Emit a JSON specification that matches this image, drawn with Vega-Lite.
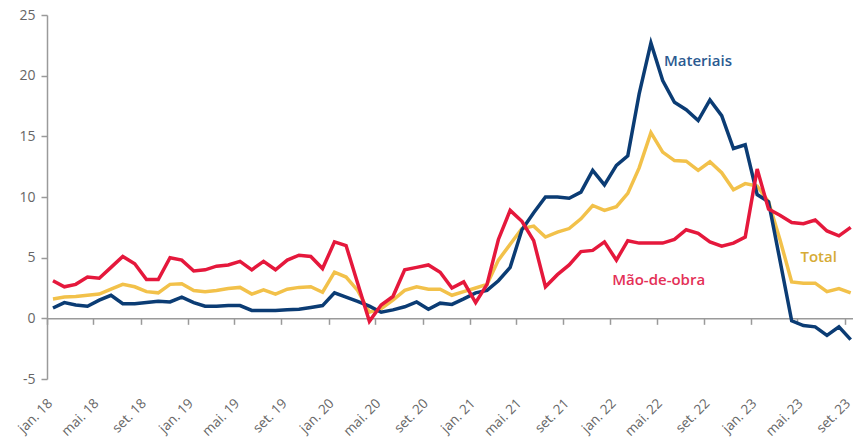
{
  "$schema": "https://vega.github.io/schema/vega-lite/v6.json",
  "width": 806,
  "height": 364,
  "autosize": {"type": "none"},
  "padding": {"left": 47, "top": 15, "right": 0, "bottom": 62},
  "background": "white",
  "config": {"view": {"stroke": null}, "font": "Open Sans", "axis": {"labelFont": "Open Sans", "grid": false}},
  "datasets": {
    "indices": [
      {"mes":"2018-01","materiais":0.85,"total":1.6,"mao":3.1},
      {"mes":"2018-02","materiais":1.3,"total":1.75,"mao":2.6},
      {"mes":"2018-03","materiais":1.1,"total":1.8,"mao":2.8},
      {"mes":"2018-04","materiais":1.0,"total":1.9,"mao":3.4},
      {"mes":"2018-05","materiais":1.5,"total":2.0,"mao":3.3},
      {"mes":"2018-06","materiais":1.9,"total":2.4,"mao":4.2},
      {"mes":"2018-07","materiais":1.2,"total":2.8,"mao":5.1},
      {"mes":"2018-08","materiais":1.2,"total":2.6,"mao":4.5},
      {"mes":"2018-09","materiais":1.3,"total":2.2,"mao":3.2},
      {"mes":"2018-10","materiais":1.4,"total":2.1,"mao":3.2},
      {"mes":"2018-11","materiais":1.35,"total":2.8,"mao":5.0},
      {"mes":"2018-12","materiais":1.75,"total":2.85,"mao":4.8},
      {"mes":"2019-01","materiais":1.3,"total":2.3,"mao":3.9},
      {"mes":"2019-02","materiais":1.0,"total":2.2,"mao":4.0},
      {"mes":"2019-03","materiais":1.0,"total":2.3,"mao":4.3},
      {"mes":"2019-04","materiais":1.05,"total":2.45,"mao":4.4},
      {"mes":"2019-05","materiais":1.05,"total":2.55,"mao":4.7},
      {"mes":"2019-06","materiais":0.65,"total":2.0,"mao":4.0},
      {"mes":"2019-07","materiais":0.65,"total":2.35,"mao":4.7},
      {"mes":"2019-08","materiais":0.65,"total":2.0,"mao":4.0},
      {"mes":"2019-09","materiais":0.7,"total":2.4,"mao":4.8},
      {"mes":"2019-10","materiais":0.75,"total":2.55,"mao":5.2},
      {"mes":"2019-11","materiais":0.9,"total":2.6,"mao":5.1},
      {"mes":"2019-12","materiais":1.05,"total":2.15,"mao":4.1},
      {"mes":"2020-01","materiais":2.1,"total":3.8,"mao":6.3},
      {"mes":"2020-02","materiais":1.75,"total":3.4,"mao":6.0},
      {"mes":"2020-03","materiais":1.4,"total":2.3,"mao":2.9},
      {"mes":"2020-04","materiais":1.0,"total":0.5,"mao":-0.25},
      {"mes":"2020-05","materiais":0.5,"total":0.8,"mao":1.1},
      {"mes":"2020-06","materiais":0.7,"total":1.5,"mao":1.8},
      {"mes":"2020-07","materiais":0.95,"total":2.3,"mao":4.0},
      {"mes":"2020-08","materiais":1.35,"total":2.6,"mao":4.2},
      {"mes":"2020-09","materiais":0.75,"total":2.4,"mao":4.4},
      {"mes":"2020-10","materiais":1.25,"total":2.4,"mao":3.8},
      {"mes":"2020-11","materiais":1.15,"total":1.9,"mao":2.5},
      {"mes":"2020-12","materiais":1.6,"total":2.2,"mao":3.0},
      {"mes":"2021-01","materiais":2.1,"total":2.5,"mao":1.3},
      {"mes":"2021-02","materiais":2.3,"total":2.8,"mao":2.8},
      {"mes":"2021-03","materiais":3.1,"total":4.8,"mao":6.5},
      {"mes":"2021-04","materiais":4.2,"total":6.1,"mao":8.9},
      {"mes":"2021-05","materiais":7.3,"total":7.4,"mao":8.0},
      {"mes":"2021-06","materiais":8.7,"total":7.6,"mao":6.4},
      {"mes":"2021-07","materiais":10.0,"total":6.7,"mao":2.6},
      {"mes":"2021-08","materiais":10.0,"total":7.1,"mao":3.6},
      {"mes":"2021-09","materiais":9.9,"total":7.4,"mao":4.4},
      {"mes":"2021-10","materiais":10.4,"total":8.2,"mao":5.5},
      {"mes":"2021-11","materiais":12.2,"total":9.3,"mao":5.6},
      {"mes":"2021-12","materiais":11.0,"total":8.9,"mao":6.3},
      {"mes":"2022-01","materiais":12.6,"total":9.2,"mao":4.8},
      {"mes":"2022-02","materiais":13.4,"total":10.3,"mao":6.4},
      {"mes":"2022-03","materiais":18.5,"total":12.4,"mao":6.2},
      {"mes":"2022-04","materiais":22.7,"total":15.3,"mao":6.2},
      {"mes":"2022-05","materiais":19.6,"total":13.7,"mao":6.2},
      {"mes":"2022-06","materiais":17.8,"total":13.0,"mao":6.5},
      {"mes":"2022-07","materiais":17.2,"total":12.95,"mao":7.3},
      {"mes":"2022-08","materiais":16.3,"total":12.2,"mao":7.0},
      {"mes":"2022-09","materiais":18.0,"total":12.9,"mao":6.3},
      {"mes":"2022-10","materiais":16.7,"total":12.0,"mao":5.95},
      {"mes":"2022-11","materiais":14.0,"total":10.6,"mao":6.2},
      {"mes":"2022-12","materiais":14.3,"total":11.1,"mao":6.7},
      {"mes":"2023-01","materiais":10.2,"total":10.9,"mao":12.3},
      {"mes":"2023-02","materiais":9.6,"total":9.6,"mao":9.0},
      {"mes":"2023-03","materiais":4.8,"total":6.5,"mao":8.5},
      {"mes":"2023-04","materiais":-0.2,"total":3.0,"mao":7.9},
      {"mes":"2023-05","materiais":-0.6,"total":2.9,"mao":7.8},
      {"mes":"2023-06","materiais":-0.7,"total":2.9,"mao":8.1},
      {"mes":"2023-07","materiais":-1.4,"total":2.2,"mao":7.2},
      {"mes":"2023-08","materiais":-0.7,"total":2.45,"mao":6.8},
      {"mes":"2023-09","materiais":-1.75,"total":2.1,"mao":7.5}
    ],
    "rotulos": [
      {"data": "2022-08-16", "valor": 21.2, "texto": "Materiais", "serie": "materiais"},
      {"data": "2023-06-25", "valor": 5.03, "texto": "Total", "serie": "total"},
      {"data": "2022-05-06", "valor": 3.19, "texto": "Mão-de-obra", "serie": "mao"}
    ]
  },
  "resolve": {"axis": {"x": "independent"}, "scale": {"color": "independent"}},
  "layer": [
    {
      "data": {"name": "indices"},
      "transform": [{"fold": ["total", "materiais", "mao"], "as": ["serie", "valor"]}],
      "mark": {"type": "line", "strokeWidth": 3.5},
      "encoding": {
        "x": {
          "field": "mes", "timeUnit": "utcyearmonth", "type": "temporal", "bandPosition": 0.5,
          "scale": {"type": "utc", "domain": [1514764800000, 1695340800000], "nice": false},
          "axis": {
            "orient": "bottom", "domain": false, "ticks": false, "title": null, "grid": false,
            "labelAngle": -45, "labelAlign": "right", "labelBaseline": "top", "labelPadding": 17, "labelOffset": -2,
            "labelFontSize": 13.5, "labelColor": "#666666", "labelFlush": false, "labelOverlap": false, "labelBound": false,
            "labelExpr": "['jan.','fev.','mar.','abr.','mai.','jun.','jul.','ago.','set.','out.','nov.','dez.'][utcmonth(datum.value)] + ' ' + utcFormat(datum.value, '%y')",
            "values": [
              {"year": 2018, "month": 1, "date": 1, "utc": true}, {"year": 2018, "month": 5, "date": 1, "utc": true}, {"year": 2018, "month": 9, "date": 1, "utc": true},
              {"year": 2019, "month": 1, "date": 1, "utc": true}, {"year": 2019, "month": 5, "date": 1, "utc": true}, {"year": 2019, "month": 9, "date": 1, "utc": true},
              {"year": 2020, "month": 1, "date": 1, "utc": true}, {"year": 2020, "month": 5, "date": 1, "utc": true}, {"year": 2020, "month": 9, "date": 1, "utc": true},
              {"year": 2021, "month": 1, "date": 1, "utc": true}, {"year": 2021, "month": 5, "date": 1, "utc": true}, {"year": 2021, "month": 9, "date": 1, "utc": true},
              {"year": 2022, "month": 1, "date": 1, "utc": true}, {"year": 2022, "month": 5, "date": 1, "utc": true}, {"year": 2022, "month": 9, "date": 1, "utc": true},
              {"year": 2023, "month": 1, "date": 1, "utc": true}, {"year": 2023, "month": 5, "date": 1, "utc": true}, {"year": 2023, "month": 9, "date": 1, "utc": true}
            ]
          }
        },
        "y": {
          "field": "valor", "type": "quantitative",
          "scale": {"domain": [-5, 25], "nice": false, "zero": false},
          "axis": {
            "values": [-5, 0, 5, 10, 15, 20, 25], "title": null, "grid": false,
            "domainColor": "#9a9a9a", "domainWidth": 1.5, "tickColor": "#9a9a9a", "tickWidth": 1.5, "tickSize": 6,
            "labelPadding": 6, "labelFontSize": 14, "labelColor": "#666666", "labelFlush": false,
            "labelExpr": "'' + datum.value"
          }
        },
        "color": {
          "field": "serie", "type": "nominal",
          "scale": {"domain": ["materiais", "total", "mao"], "range": ["#0b3c74", "#f2c14a", "#e5183c"]},
          "legend": null
        }
      }
    },
    {
      "data": {"name": "indices"},
      "mark": {"type": "line", "strokeOpacity": 0},
      "encoding": {
        "x": {
          "field": "mes", "timeUnit": "utcyearmonth", "type": "temporal", "bandPosition": 0.5,
          "scale": {"type": "utc", "domain": [1514764800000, 1695340800000], "nice": false},
          "axis": {
            "orient": "bottom",
            "offset": -60.667,
            "labels": false, "ticks": true, "tickSize": 6, "tickColor": "#9a9a9a", "tickWidth": 1.5,
            "domain": true, "domainColor": "#9a9a9a", "domainWidth": 1.5, "title": null, "grid": false,
            "values": [
              {"year": 2018, "month": 1, "date": 1, "utc": true}, {"year": 2018, "month": 5, "date": 1, "utc": true}, {"year": 2018, "month": 9, "date": 1, "utc": true},
              {"year": 2019, "month": 1, "date": 1, "utc": true}, {"year": 2019, "month": 5, "date": 1, "utc": true}, {"year": 2019, "month": 9, "date": 1, "utc": true},
              {"year": 2020, "month": 1, "date": 1, "utc": true}, {"year": 2020, "month": 5, "date": 1, "utc": true}, {"year": 2020, "month": 9, "date": 1, "utc": true},
              {"year": 2021, "month": 1, "date": 1, "utc": true}, {"year": 2021, "month": 5, "date": 1, "utc": true}, {"year": 2021, "month": 9, "date": 1, "utc": true},
              {"year": 2022, "month": 1, "date": 1, "utc": true}, {"year": 2022, "month": 5, "date": 1, "utc": true}, {"year": 2022, "month": 9, "date": 1, "utc": true},
              {"year": 2023, "month": 1, "date": 1, "utc": true}, {"year": 2023, "month": 5, "date": 1, "utc": true}, {"year": 2023, "month": 9, "date": 1, "utc": true}
            ]
          }
        },
        "y": {"datum": 0, "type": "quantitative"}
      }
    },
    {
      "data": {"name": "rotulos"},
      "mark": {"type": "text", "fontSize": 15, "fontWeight": 600, "align": "center", "baseline": "middle", "font": "Open Sans"},
      "encoding": {
        "x": {"field": "data", "type": "temporal", "scale": {"type": "utc"}, "axis": null},
        "y": {"field": "valor", "type": "quantitative"},
        "text": {"field": "texto"},
        "color": {
          "field": "serie", "type": "nominal",
          "scale": {"domain": ["materiais", "total", "mao"], "range": ["#2b5a91", "#d6ab35", "#e43057"]},
          "legend": null
        }
      }
    }
  ]
}
